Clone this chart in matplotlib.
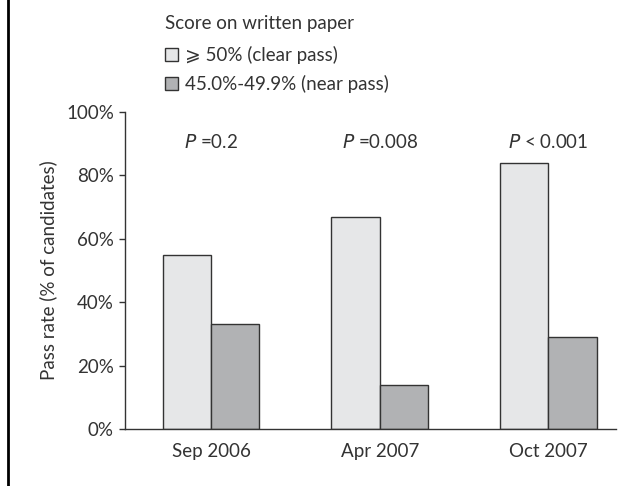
import matplotlib.pyplot as plt
import numpy as np
from matplotlib.lines import Line2D

# data
sessions = ["Sep 2006", "Apr 2007", "Oct 2007"]
clear_pass = [55, 67, 84]
near_pass = [33, 14, 29]
p_labels = ["=0.2", "=0.008", "< 0.001"]
y_ticks = [0, 20, 40, 60, 80, 100]

plt.rcParams['font.family'] = ['Lato', 'DejaVu Sans']
text_col = "#333333"
fs = 13.5

fig = plt.figure(figsize=(6.44, 4.86), dpi=100)
ax = fig.add_axes([0.194, 0.1173, 0.7625, 0.6522])

x = np.arange(len(sessions))
w = 0.287
b1 = ax.bar(x - w / 2, clear_pass, w, color="#e6e7e8", edgecolor="#333333", linewidth=1.0)
b2 = ax.bar(x + w / 2, near_pass, w, color="#b1b2b4", edgecolor="#333333", linewidth=1.0)

# P values above each group
for xi, lab in zip(x, p_labels):
    ax.text(xi, 90.5, r"$\it{P}$ " + lab, ha="center", va="center",
            fontsize=fs, color=text_col)

ax.set_xlim(-0.51, 2.40)
ax.set_ylim(0, 100)
ax.set_yticks(y_ticks)
ax.set_yticklabels([f"{t}%" for t in y_ticks])
ax.set_xticks(x)
ax.set_xticklabels(sessions)
ax.tick_params(axis="x", length=0, pad=10, labelsize=fs, labelcolor=text_col)
ax.tick_params(axis="y", length=4, width=1, pad=4, labelsize=fs, labelcolor=text_col,
               color="#333333")
for s in ["top", "right"]:
    ax.spines[s].set_visible(False)
for s in ["left", "bottom"]:
    ax.spines[s].set_color("#333333")
    ax.spines[s].set_linewidth(1.0)
ax.set_ylabel("Pass rate (% of candidates)", fontsize=fs, color=text_col, labelpad=6)

leg = fig.legend([b1, b2], ["\u2a7e 50% (clear pass)", "45.0%-49.9% (near pass)"],
                 title="Score on written paper", loc="upper left",
                 bbox_to_anchor=(0.245, 0.984), frameon=False, fontsize=fs,
                 title_fontsize=fs, handlelength=0.7, handleheight=0.7,
                 handletextpad=0.35, labelspacing=0.58, borderaxespad=0)
leg._legend_box.align = "left"
leg._legend_box.sep = 10
for t in leg.get_texts():
    t.set_color(text_col)
leg.get_title().set_color(text_col)

# vertical rule on the left edge of the panel
fig.add_artist(Line2D([0.012, 0.012], [0, 1], transform=fig.transFigure,
                      color="black", linewidth=2))

fig.savefig("out.png", dpi=100)
